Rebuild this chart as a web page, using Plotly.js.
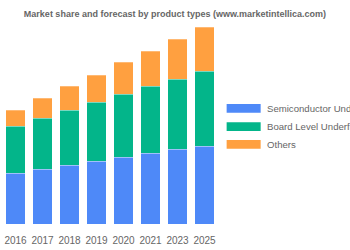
<!DOCTYPE html>
<html>
<head>
<meta charset="utf-8">
<script src="https://cdn.plot.ly/plotly-3.0.1.min.js"></script>
<style>html,body{margin:0;padding:0;background:#fff;overflow:hidden}#chart{width:350px;height:250px}</style>
</head>
<body>
<div id="chart"></div>
<script>
const years = ["2016", "2017", "2018", "2019", "2020", "2021", "2023", "2025"];
const seriesNames = ["Semiconductor Underfill", "Board Level Underfill", "Others"];
const semiconductor = [51, 55, 59, 63, 67, 71, 75, 78];
const boardLevel = [47, 51, 55, 59, 63, 67, 70, 75];
const others = [16, 20, 24, 27, 32, 35, 40, 44];
const colors = ["#4e89f8", "#03b58a", "#ffa040"];

const seriesValues = [semiconductor, boardLevel, others];
const traces = seriesValues.map((vals, i) => ({
  type: "bar",
  x: years,
  y: vals,
  name: seriesNames[i],
  marker: { color: colors[i], line: { width: 0.6, color: "rgba(255,255,255,0.45)" } },
  showlegend: false,
  hoverinfo: "none"
}));

// Manual legend (paper coordinates)
const legRowY = [0.5785, 0.4865, 0.3985];
const shapes = [];
const annotations = [];
seriesNames.forEach((name, i) => {
  shapes.push({
    type: "rect", xref: "paper", yref: "paper",
    x0: 1.040, x1: 1.1975, y0: legRowY[i] - 0.022, y1: legRowY[i] + 0.022,
    fillcolor: colors[i], line: { width: 0 }
  });
  annotations.push({
    xref: "paper", yref: "paper", x: 1.2225, y: legRowY[i],
    xanchor: "left", yanchor: "middle", showarrow: false, borderpad: 0,
    text: name, font: { family: "Liberation Sans, Arial, sans-serif", size: 9.6, color: "#666666" }
  });
});

const layout = {
  width: 350, height: 250,
  margin: { l: 2, r: 132, t: 24, b: 26, pad: 0 },
  paper_bgcolor: "#ffffff", plot_bgcolor: "#ffffff",
  barmode: "stack",
  bargap: 0.285,
  title: {
    text: "<b>Market share and forecast by product types (www.marketintellica.com)</b>",
    x: 0.5, xref: "container", xanchor: "center",
    y: 0.944, yref: "container", yanchor: "middle",
    font: { family: "Liberation Sans, Arial, sans-serif", size: 9, color: "#666666" }
  },
  xaxis: {
    type: "category",
    showgrid: false, zeroline: false, showline: false,
    ticks: "", ticklabelstandoff: 9,
    tickfont: { family: "Liberation Sans, Arial, sans-serif", size: 10, color: "#666666" },
    fixedrange: true
  },
  yaxis: {
    range: [0, 200],
    visible: false, showgrid: false, zeroline: false,
    fixedrange: true
  },
  shapes: shapes,
  annotations: annotations,
  showlegend: false
};

Plotly.newPlot("chart", traces, layout, { displayModeBar: false, staticPlot: true });
</script>
</body>
</html>
